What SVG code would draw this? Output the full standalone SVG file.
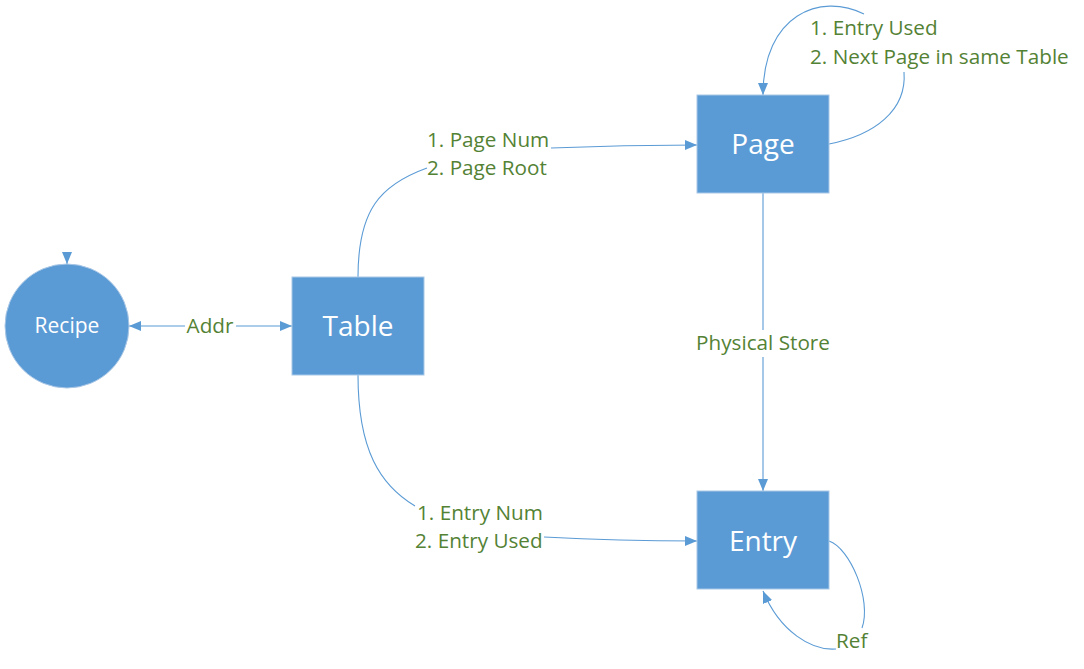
<svg xmlns="http://www.w3.org/2000/svg" width="1084" height="669" viewBox="0 0 1084 669">
<style>
.node{fill:#5B9BD5;stroke:#A9C7E6;stroke-width:1}
.nt{fill:#FFFFFF;font-family:"Open Sans","Noto Sans",sans-serif;text-anchor:middle}
.big{font-size:28px}
.lbl{fill:#548235;font-family:"Open Sans","Noto Sans",sans-serif;font-size:20.7px}
.c{fill:none;stroke:#5B9BD5;stroke-width:1.1}
</style>
<defs>
<marker id="arr" markerUnits="userSpaceOnUse" markerWidth="12" markerHeight="10" viewBox="0 0 12 10" refX="12" refY="5" orient="auto">
<path d="M0,0 L12,5 L0,10 z" fill="#5B9BD5"/>
</marker>
<marker id="arrs" markerUnits="userSpaceOnUse" markerWidth="12" markerHeight="10" viewBox="0 0 12 10" refX="0" refY="5" orient="auto">
<path d="M12,0 L0,5 L12,10 z" fill="#5B9BD5"/>
</marker>
</defs>
<g id="connectors">
<path class="c" d="M129,326 L185,326" marker-start="url(#arrs)"/>
<path class="c" d="M236,326 L292,326" marker-end="url(#arr)"/>
<path class="c" d="M67,256 L67,264" marker-end="url(#arr)"/>
<path class="c" d="M358,277 C358,210 380,185 427,168"/>
<path class="c" d="M551,148 C600,146 650,145 697,145" marker-end="url(#arr)"/>
<path class="c" d="M358,375 C358,450 380,485 415,506"/>
<path class="c" d="M544,537 C600,540 650,541 697,541" marker-end="url(#arr)"/>
<path class="c" d="M763,193 L763,330"/>
<path class="c" d="M763,357 L763,491" marker-end="url(#arr)"/>
<path class="c" d="M829,144 C875,135 907,110 904,72"/>
<path class="c" d="M864,14 C820,-8 763,15 763,95" marker-end="url(#arr)"/>
<path class="c" d="M829,541 C850,548 872,600 862,628"/>
<path class="c" d="M836,649 C812,651 780,632 763,591" marker-end="url(#arr)"/>
</g>
<g id="labels">
<text class="lbl" x="210" y="333" text-anchor="middle">Addr</text>
<text class="lbl" x="427" y="147">1. Page Num</text>
<text class="lbl" x="427" y="175">2. Page Root</text>
<text class="lbl" x="810" y="35">1. Entry Used</text>
<text class="lbl" x="810" y="64">2. Next Page in same Table</text>
<text class="lbl" x="763" y="350" text-anchor="middle">Physical Store</text>
<text class="lbl" x="417" y="520">1. Entry Num</text>
<text class="lbl" x="415" y="548">2. Entry Used</text>
<text class="lbl" x="836" y="648">Ref</text>
</g>
<g id="recipe">
<circle class="node" cx="67" cy="326" r="62"/>
<text class="nt" x="67" y="333" font-size="21">Recipe</text>
</g>
<g id="table">
<rect class="node" x="292" y="277" width="132" height="98"/>
<text class="nt big" x="358" y="336">Table</text>
</g>
<g id="page">
<rect class="node" x="697" y="95" width="132" height="98"/>
<text class="nt big" x="763" y="154">Page</text>
</g>
<g id="entry">
<rect class="node" x="697" y="491" width="132" height="98"/>
<text class="nt big" x="763" y="551">Entry</text>
</g>
</svg>
